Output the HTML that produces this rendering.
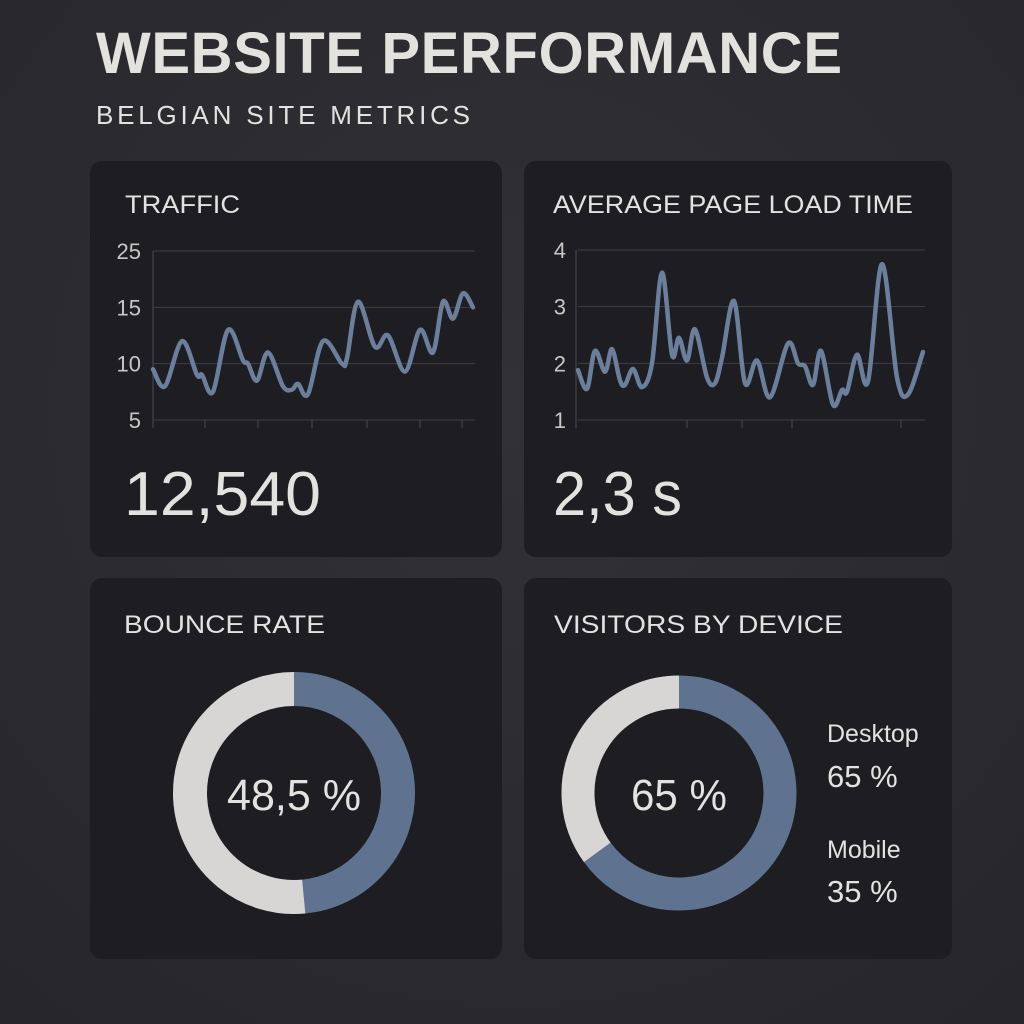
<!DOCTYPE html>
<html><head><meta charset="utf-8">
<style>
html,body{margin:0;padding:0;background:#2c2c30;}
svg{display:block;font-family:"Liberation Sans",sans-serif;}
</style></head>
<body>
<svg id="root" width="1024" height="1024" viewBox="0 0 1024 1024">
  <defs>
    <radialGradient id="bg" cx="50%" cy="40%" r="75%">
      <stop offset="0" stop-color="#323236"/><stop offset="1" stop-color="#27272b"/>
    </radialGradient>
  </defs>
  <rect width="1024" height="1024" fill="url(#bg)"/>
  <text x="96" y="73" font-size="58" font-weight="bold" fill="#e4e2df" textLength="746" lengthAdjust="spacing">WEBSITE PERFORMANCE</text>
  <text x="96" y="124" font-size="26" fill="#e4e2df" textLength="374" lengthAdjust="spacing">BELGIAN SITE METRICS</text>

  <rect x="90" y="161" width="412" height="396" rx="12" fill="#1d1d22"/>
  <rect x="524" y="161" width="428" height="396" rx="12" fill="#1d1d22"/>
  <rect x="90" y="578" width="412" height="381" rx="12" fill="#1d1d22"/>
  <rect x="524" y="578" width="428" height="381" rx="12" fill="#1d1d22"/>

  <text x="125" y="213" font-size="25" fill="#e4e2df" textLength="115" lengthAdjust="spacingAndGlyphs">TRAFFIC</text>
  <text x="553" y="213" font-size="25" fill="#e4e2df" textLength="360" lengthAdjust="spacingAndGlyphs">AVERAGE PAGE LOAD TIME</text>
  <text x="124" y="633" font-size="25" fill="#e4e2df" textLength="201" lengthAdjust="spacingAndGlyphs">BOUNCE RATE</text>
  <text x="554" y="633" font-size="25" fill="#e4e2df" textLength="289" lengthAdjust="spacingAndGlyphs">VISITORS BY DEVICE</text>

  <text x="124" y="515" font-size="62" fill="#e4e2df" textLength="197" lengthAdjust="spacingAndGlyphs">12,540</text>
  <text x="553" y="515" font-size="62" fill="#e4e2df" textLength="129" lengthAdjust="spacingAndGlyphs">2,3 s</text>

  <g id="traffic-chart"></g>
  <g id="load-chart"></g>
  <g id="bounce-donut"></g>
  <g id="device-donut"></g>

  <text x="294" y="810" font-size="44" fill="#e4e2df" text-anchor="middle" textLength="134" lengthAdjust="spacingAndGlyphs">48,5 %</text>
  <text x="679" y="810" font-size="44" fill="#e4e2df" text-anchor="middle" textLength="96" lengthAdjust="spacingAndGlyphs">65 %</text>

  <text x="827" y="742" font-size="25" fill="#e4e2df">Desktop</text>
  <text x="827" y="787" font-size="31" fill="#e4e2df">65 %</text>
  <text x="827" y="858" font-size="25" fill="#e4e2df">Mobile</text>
  <text x="827" y="902" font-size="31" fill="#e4e2df">35 %</text>
</svg>
<script>
// Traffic data
const trafficDays = [0,2.4,5.8,8.8,9.8,12,15,18,19,20.8,23,26,27.8,29,31,34,37.8,38.8,41,44.4,47,50.4,53.4,56,58,60,62,64];
const trafficValues = [9.5,8,12,9,9,7.5,13,10.3,10,8.5,11,8,7.7,8.2,7.3,12,10,10.5,16,11.5,12.5,9.3,13,11,16,14,17.5,15];
const trafficTicks = [5,10,15,25];
// Load time data
const loadDays = [0,1.8,3.4,5.4,6.8,8.4,9.4,11,12.8,14.8,16.8,18.8,20.2,21.8,23.4,25.8,27.4,28.8,31.2,33.4,35.8,38.4,42,44,45.4,47,48.6,51,52.8,53.8,55.8,58,60.8,63.8,66,69];
const loadValues = [1.88,1.55,2.22,1.85,2.25,1.7,1.62,1.9,1.58,2.0,3.6,2.15,2.45,2.05,2.6,1.75,1.65,2.1,3.1,1.65,2.05,1.4,2.35,2.0,1.95,1.62,2.22,1.27,1.53,1.5,2.15,1.68,3.75,1.75,1.45,2.2];
const loadTicks = [1,2,3,4];
// Donut data
const bounceShares = [48.5, 51.5];
const deviceShares = [65, 35];

const NS = 'http://www.w3.org/2000/svg';
function mk(tag, attrs, parent){const e=document.createElementNS(NS,tag);for(const k in attrs)e.setAttribute(k,attrs[k]);parent.appendChild(e);return e;}

function smoothPath(pts){
  let d='M'+pts[0][0].toFixed(1)+','+pts[0][1].toFixed(1);
  for(let i=0;i<pts.length-1;i++){
    const p0=pts[Math.max(0,i-1)],p1=pts[i],p2=pts[i+1],p3=pts[Math.min(pts.length-1,i+2)];
    const c1=[p1[0]+(p2[0]-p0[0])/6,p1[1]+(p2[1]-p0[1])/6];
    const c2=[p2[0]-(p3[0]-p1[0])/6,p2[1]-(p3[1]-p1[1])/6];
    d+=` C${c1[0].toFixed(1)},${c1[1].toFixed(1)} ${c2[0].toFixed(1)},${c2[1].toFixed(1)} ${p2[0].toFixed(1)},${p2[1].toFixed(1)}`;
  }
  return d;
}

function lineChart(g, days, vals, ticks, cfg){
  const n=ticks.length;
  const y=v=>{
    let i=0; while(i<n-2 && v>ticks[i+1]) i++;
    const f=(v-ticks[i])/(ticks[i+1]-ticks[i]);
    return cfg.y0 - (i+f)*(cfg.y0-cfg.y1)/(n-1);
  };
  const dmax=days[days.length-1];
  const x=d=>cfg.x0+d/dmax*(cfg.x1-cfg.x0);
  ticks.forEach((t,i)=>{
    const yy=y(t);
    const gl=mk('line',{x1:cfg.x0,x2:cfg.gx1,y1:yy,y2:yy,stroke:'#3e3e44','stroke-width':1},g);
    
    
    const tl=mk('text',{x:cfg.lx,y:yy+8,'font-size':22,fill:'#c9c7c4','text-anchor':'end'},g);
    tl.textContent=t;
    
    
  });
  const ax=mk('line',{x1:cfg.ax,x2:cfg.ax,y1:cfg.y1,y2:cfg.y0+8,stroke:'#44444a','stroke-width':1.2},g);
  
  
  cfg.xticks.forEach(t=>{
    const tk=mk('line',{x1:t,x2:t,y1:cfg.y0,y2:cfg.y0+8,stroke:'#44444a','stroke-width':1.2},g);
    
    
  });
  const pts=days.map((d,i)=>[x(d),y(vals[i])]);
  const p=mk('path',{d:smoothPath(pts),fill:'none',stroke:'#6b7f9c','stroke-width':4.5,'stroke-linejoin':'round','stroke-linecap':'round'},g);
  
  
}

lineChart(document.getElementById('traffic-chart'),trafficDays,trafficValues,trafficTicks,
  {x0:153,x1:473,gx1:475,y0:420,y1:251,lx:141,ax:153,xticks:[205,258,312,367,420,462]});
lineChart(document.getElementById('load-chart'),loadDays,loadValues,loadTicks,
  {x0:578,x1:923,gx1:925,y0:420,y1:250,lx:566,ax:576,xticks:[687,742,792,901]});

function donut(g,cx,cy,r,w,shares,colors){
  const total=shares.reduce((a,b)=>a+b,0);
  let a0=-Math.PI/2;
  shares.forEach((s,i)=>{
    const a1=a0+s/total*2*Math.PI;
    const large=(a1-a0)>Math.PI?1:0;
    const d=`M${cx+r*Math.cos(a0)},${cy+r*Math.sin(a0)} A${r},${r} 0 ${large} 1 ${cx+r*Math.cos(a1)},${cy+r*Math.sin(a1)}`;
    const p=mk('path',{d:d,fill:'none',stroke:colors[i],'stroke-width':w},g);
    
    
    a0=a1;
  });
}
donut(document.getElementById('bounce-donut'),294,793,104,34,bounceShares,['#5f7391','#d8d6d4']);
donut(document.getElementById('device-donut'),679,793,101,33,deviceShares,['#5f7391','#d8d6d4']);
</script>
</body></html>
